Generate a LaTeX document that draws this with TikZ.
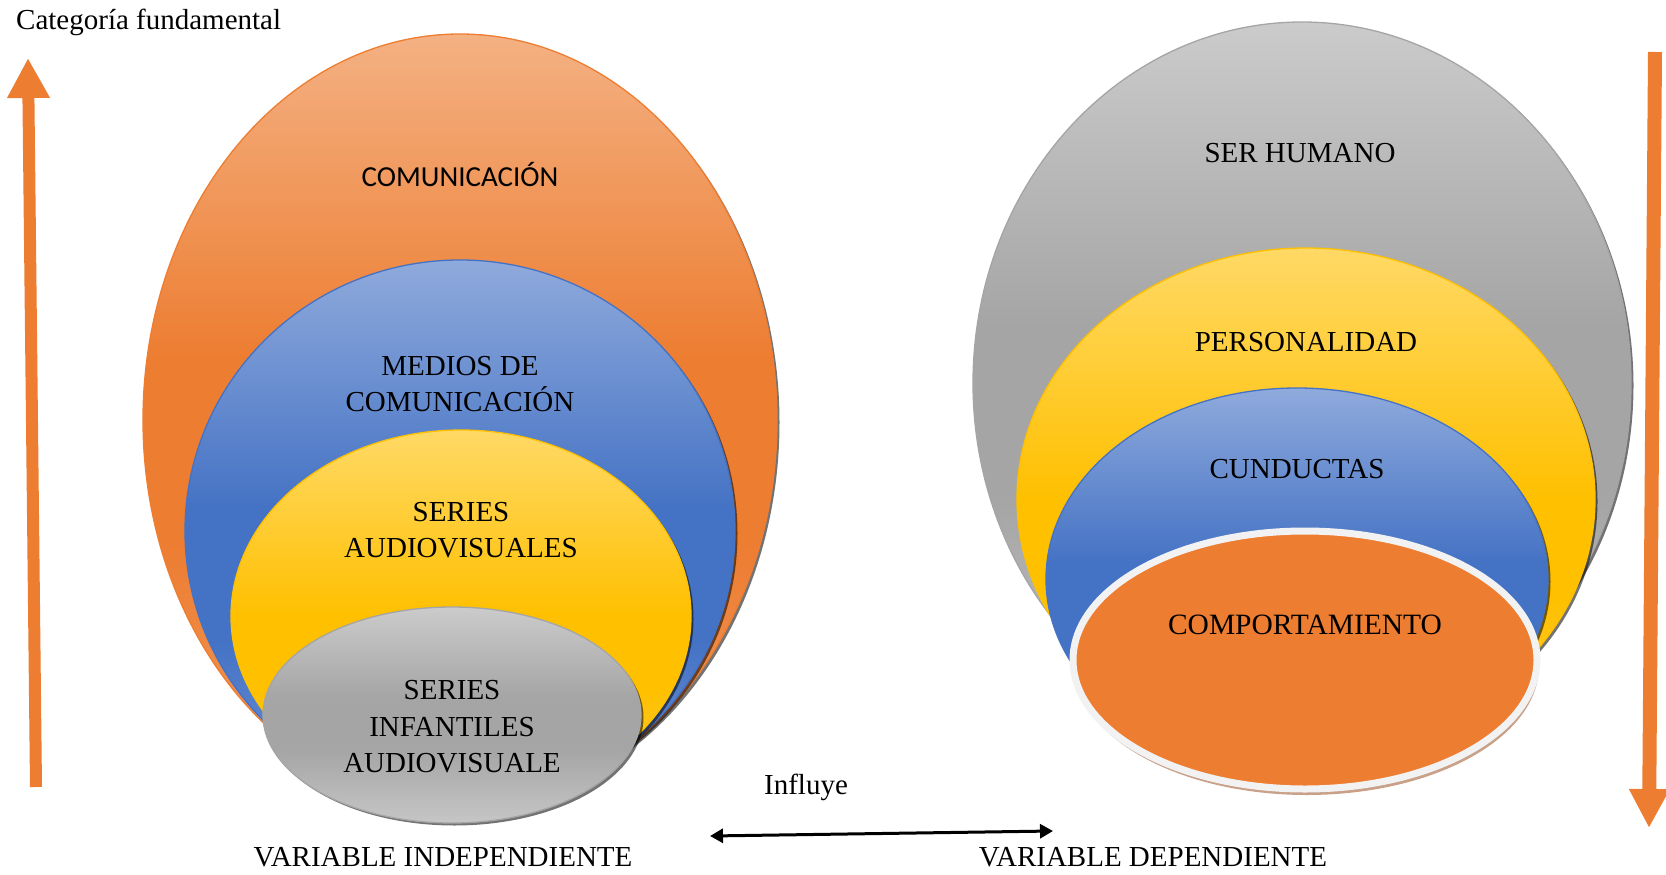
\documentclass[tikz,border=0pt]{standalone}
\usepackage{fontspec}
\setmainfont{Liberation Serif}
\newfontfamily\calibrifont{Carlito}
\usetikzlibrary{shapes.geometric,shadows,arrows.meta}
\definecolor{orA}{HTML}{ED7D31}
\definecolor{orL}{HTML}{F4B183}
\definecolor{orM}{HTML}{F19A60}
\definecolor{blA}{HTML}{4472C4}
\definecolor{blL}{HTML}{8FAADC}
\definecolor{blM}{HTML}{6F93D8}
\definecolor{yeA}{HTML}{FFC000}
\definecolor{yeL}{HTML}{FFD966}
\definecolor{yeM}{HTML}{FFCC40}
\definecolor{grA}{HTML}{A5A5A5}
\definecolor{grL}{HTML}{CBCBCB}
\definecolor{grM}{HTML}{C6C6C6}
\definecolor{rimW}{HTML}{F2F2F2}
\definecolor{tan}{HTML}{C9A088}
\pgfdeclareverticalshading{orShade}{100bp}{color(0bp)=(orM); color(25bp)=(orM); color(42bp)=(orA); color(54bp)=(orA); color(75bp)=(orL); color(100bp)=(orL)}
\pgfdeclareverticalshading{blShade}{100bp}{color(0bp)=(blM); color(25bp)=(blM); color(40bp)=(blA); color(52bp)=(blA); color(75bp)=(blL); color(100bp)=(blL)}
\pgfdeclareverticalshading{yeShade}{100bp}{color(0bp)=(yeM); color(25bp)=(yeM); color(40bp)=(yeA); color(50bp)=(yeA); color(75bp)=(yeL); color(100bp)=(yeL)}
\pgfdeclareverticalshading{grShade}{100bp}{color(0bp)=(grM); color(25bp)=(grM); color(42bp)=(grA); color(54bp)=(grA); color(75bp)=(grL); color(100bp)=(grL)}
\tikzset{
  oval/.style={ellipse, inner sep=0pt, line width=1.3pt,
    drop shadow={shadow xshift=2.5pt, shadow yshift=-2.5pt, fill=black, opacity=0.55}},
  orOval/.style={oval, draw=orA, shade, shading=orShade},
  blOval/.style={oval, draw=blA, shade, shading=blShade},
  yeOval/.style={oval, draw=yeA, shade, shading=yeShade},
  grOval/.style={oval, draw=grA, shade, shading=grShade},
  lbl/.style={font=\fontsize{29}{36.5}\selectfont, align=center, inner sep=0pt, text=black},
  bigarrow/.style={draw=orA, line cap=butt},
}
\begin{document}
\begin{tikzpicture}[x=1pt,y=-1pt]
\useasboundingbox (0,0) rectangle (1666,875);

% ---- left group
\node[orOval, minimum width=634pt, minimum height=772pt] (com) at (460,420) {};
\node[blOval, minimum width=550pt, minimum height=542pt] (med) at (460,531) {};
\node[yeOval, minimum width=460pt, minimum height=372pt] (ser) at (461,616) {};
\node[grOval, minimum width=378pt, minimum height=216pt] (inf) at (452,715) {};

\node[lbl, font=\calibrifont\fontsize{29}{36.5}\selectfont] (tcom) at (460,174) {COMUNICACIÓN};
\node[lbl] (tmed) at (460,384) {MEDIOS DE\\COMUNICACIÓN};
\node[lbl] (tser) at (461,530) {SERIES\\AUDIOVISUALES};
\node[lbl] (tinf) at (452,727) {SERIES\\INFANTILES\\AUDIOVISUALE};

% ---- right group
\node[grOval, minimum width=658pt, minimum height=722pt] (hum) at (1302,383) {};
\node[yeOval, minimum width=578pt, minimum height=502pt] (per) at (1306,499) {};
\node[blOval, minimum width=502pt, minimum height=382pt] (cun) at (1297,579) {};
\node[ellipse, inner sep=0pt, minimum width=464pt, minimum height=258pt, fill=tan] (cmpS) at (1307,666) {};
\node[ellipse, inner sep=0pt, minimum width=464pt, minimum height=258pt, fill=orA, draw=rimW, line width=7pt] (cmp) at (1305,660) {};

\node[lbl] (thum) at (1300,153) {SER HUMANO};
\node[lbl] (tper) at (1306,342) {PERSONALIDAD};
\node[lbl] (tcun) at (1297,469) {CUNDUCTAS};
\node[lbl, font=\fontsize{29.5}{36.5}\selectfont] (tcmp) at (1305,625) {COMPORTAMIENTO};

% ---- texts
\node[lbl, anchor=west] (cat) at (16,22) {Categoría fundamental};
\node[lbl] (vi) at (443,857) {VARIABLE INDEPENDIENTE};
\node[lbl] (vd) at (1153,857) {VARIABLE DEPENDIENTE};
\node[lbl] (inl) at (806,787) {Influye};

% ---- arrows
\coordinate (upB) at (36,787);
\coordinate (upT) at (28,58);
\draw[bigarrow, line width=12pt, -{Triangle[length=40pt,width=40pt]}] (upB) -- (upT);
\coordinate (dnT) at (1655,52);
\coordinate (dnB) at (1649,828);
\draw[bigarrow, line width=14pt, -{Triangle[length=39pt,width=38pt]}] (dnT) -- (dnB);

\coordinate (hL) at (710,836);
\coordinate (hR) at (1053,831);
\draw[line width=3pt, {Triangle[length=13pt,width=14pt]}-{Triangle[length=13pt,width=14pt]}] (hL) -- (hR);
\end{tikzpicture}
\end{document}
